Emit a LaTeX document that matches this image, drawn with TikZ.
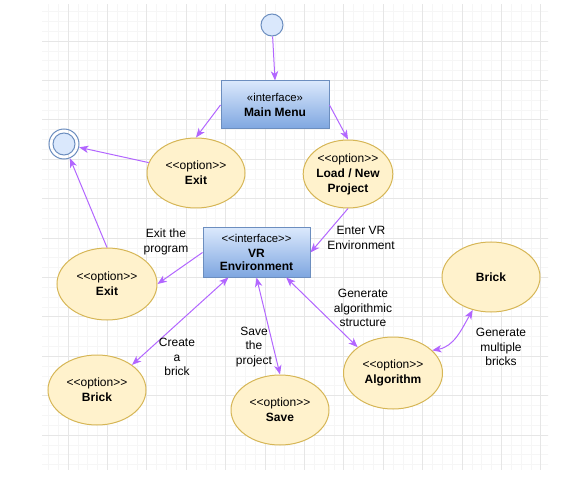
\documentclass[tikz,border=0pt]{standalone}
\usepackage{fontspec}
\setmainfont{Liberation Sans}
\definecolor{flowpurple}{RGB}{178,102,255}
\definecolor{optionfill}{RGB}{255,242,204}
\definecolor{optionline}{RGB}{214,182,86}
\definecolor{ifacetop}{RGB}{218,232,252}
\definecolor{ifacebottom}{RGB}{126,166,224}
\definecolor{ifaceline}{RGB}{108,142,191}
\definecolor{gridminor}{RGB}{246,246,246}
\definecolor{gridmajor}{RGB}{230,230,230}
\usepackage{tikz}
\usetikzlibrary{shapes,arrows,arrows.meta,positioning,calc}

\begin{document}
\begin{tikzpicture}[x=0.75pt, y=-0.75pt,
        usecase/.style={ellipse, draw=optionline, fill=optionfill, line width=0.75pt,
            minimum width=73.5pt, minimum height=52.5pt, inner sep=0pt, align=center,
            font=\fontsize{9}{11.2}\selectfont},
        iface/.style={rectangle, draw=ifaceline, top color=ifacetop, bottom color=ifacebottom,
            line width=0.75pt, minimum width=81pt, minimum height=36pt, inner sep=0pt,
            align=center, font=\fontsize{9}{11.2}\selectfont},
        link/.style={draw=flowpurple, line width=0.75pt, -{Stealth[length=7pt,width=5.5pt,inset=2pt]}},
        bilink/.style={link, {Stealth[length=7pt,width=5.5pt,inset=2pt]}-{Stealth[length=7pt,width=5.5pt,inset=2pt]}},
        flowlabel/.style={align=center, inner sep=0pt, font=\fontsize{9}{10.8}\selectfont}]
            \useasboundingbox (0,0) rectangle (582,481);
            % background grid
            \begin{scope}
                \clip (42,5) rectangle (548,469);
                \foreach \i in {-3,...,49}
                    \draw[gridminor, line width=0.5pt] ({68+9.85*\i},0) -- ({68+9.85*\i},481);
                \foreach \j in {-4,...,44}
                    \draw[gridminor, line width=0.5pt] (0,{41+9.85*\j}) -- (582,{41+9.85*\j});
                \foreach \i in {-1,...,13}
                    \draw[gridmajor, line width=0.6pt] ({68+39.4*\i},0) -- ({68+39.4*\i},481);
                \foreach \j in {-1,...,11}
                    \draw[gridmajor, line width=0.6pt] (0,{41+39.4*\j}) -- (582,{41+39.4*\j});
            \end{scope}

            % states
            \node[circle, draw=ifaceline, fill=ifacetop, line width=0.75pt, minimum size=16.5pt] (start) at (272,25) {};
            \node[circle, draw=ifaceline, line width=0.75pt, minimum size=22.5pt] (finish) at (64,144) {};
            \node[circle, draw=ifaceline, fill=ifacetop, line width=0.75pt, minimum size=16.5pt] at (finish) {};

            % interfaces
            \node[iface] (mainmenu) at (275,105)
                {{\fontsize{8.5}{10}\selectfont «interface»}\\\textbf{Main Menu}};
            \node[iface, minimum width=80.25pt, minimum height=36.75pt] (vrenv) at (256.5,252.5)
                {{\fontsize{8.5}{10}\selectfont <{}<interface>{}>}\\\textbf{VR}\\[-1pt]\textbf{Environment}};

            % options
            \node[usecase] (exitmenu) at (196,173) {<{}<option>{}>\\\textbf{Exit}};
            \node[usecase, minimum width=64.5pt, minimum height=51pt] (loadproj) at (348,174)
                {<{}<option>{}>\\\textbf{Load / New}\\\textbf{Project}};
            \node[usecase, minimum width=75pt, minimum height=54pt] (exitvr) at (107,284)
                {<{}<option>{}>\\\textbf{Exit}};
            \node[usecase] (brickgen) at (491,277) {\textbf{Brick}};
            \node[usecase, minimum width=74.25pt, minimum height=54pt] (algo) at (393,373)
                {<{}<option>{}>\\\textbf{Algorithm}};
            \node[usecase] (brickopt) at (97,390) {<{}<option>{}>\\\textbf{Brick}};
            \node[usecase] (saveopt) at (280,410) {<{}<option>{}>\\\textbf{Save}};

            % connectors
            \draw[link] (start) -- (mainmenu.north);
            \draw[link] (mainmenu.west) -- (exitmenu.north);
            \draw[link] (mainmenu.east) -- (loadproj.north);
            \draw[link] (exitmenu) -- (finish);
            \draw[link] (loadproj.south) -- (vrenv.east);
            \draw[link] (vrenv.west) -- (exitvr.east);
            \draw[link] (exitvr.north) -- (finish);
            \draw[bilink] (brickopt.north east) -- ($(vrenv.south west)!0.24!(vrenv.south east)$);
            \draw[bilink] (saveopt.north) -- (vrenv.south);
            \draw[bilink] (algo.north west) -- ($(vrenv.south)!0.55!(vrenv.south east)$);
            \draw[bilink] (algo.30) to[out=10, in=240] (brickgen.241);

            % connector labels
            \node[flowlabel] (lblexit) at (166,242) {Exit the\\program};
            \node[flowlabel] (lblenter) at (361,238) {Enter VR\\Environment};
            \node[flowlabel] (lblalgo) at (363,308) {Generate\\algorithmic\\structure};
            \node[flowlabel] (lblbricks) at (501,347) {Generate\\multiple\\bricks};
            \node[flowlabel] (lblbrick) at (177,357) {Create\\a\\brick};
            \node[flowlabel] (lblsave) at (254,347) {Save\\the\\project};
        \end{tikzpicture}
\end{document}
